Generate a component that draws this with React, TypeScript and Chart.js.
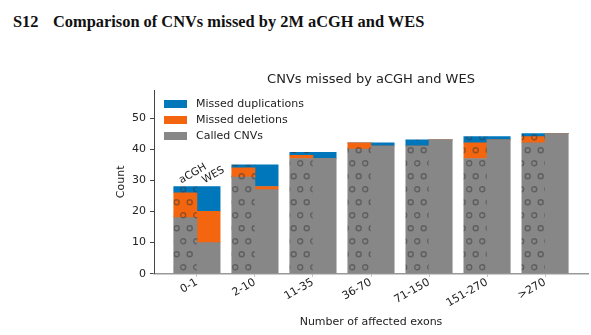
import React, { useEffect, useRef } from 'react';
import { Chart, registerables } from 'chart.js';

Chart.register(...registerables);

const categories = ['0-1', '2-10', '11-35', '36-70', '71-150', '151-270', '>270'];
const platforms = ['aCGH', 'WES'];
const acghCalled = [18, 31, 37, 40, 41, 37, 42];
const acghDeletions = [8, 3, 1, 2, 0, 5, 2];
const acghDuplications = [2, 1, 1, 0, 2, 2, 1];
const wesCalled = [10, 27, 37, 41, 43, 43, 45];
const wesDeletions = [10, 1, 0, 0, 0, 0, 0];
const wesDuplications = [8, 7, 2, 1, 0, 1, 0];
const yTicks = [0, 10, 20, 30, 40, 50];
const yMax = 59;
const barWidth = 0.4;
const chartTitle = 'CNVs missed by aCGH and WES';

const BLUE = '#0077BB';
const ORANGE = '#F4650F';
const GREY = '#878787';
const TEXT = '#222222';
const FONT = 'DejaVu Sans';

function makePattern(color: string): CanvasPattern | string {
  const c = document.createElement('canvas');
  c.width = 13;
  c.height = 26;
  const g = c.getContext('2d');
  if (!g) return color;
  g.fillStyle = color;
  g.fillRect(0, 0, 13, 26);
  g.strokeStyle = 'rgba(55,55,55,0.5)';
  g.lineWidth = 1.4;
  const circles = [[1.2, 7.3], [14.2, 7.3], [7.7, 20.3]];
  for (const [x, y] of circles) {
    g.beginPath();
    g.arc(x, y, 2.5, 0, Math.PI * 2);
    g.stroke();
  }
  return g.createPattern(c, 'repeat') || color;
}

function points(a: number[], w: number[]) {
  return categories.flatMap((_, i) => [
    { x: i - barWidth / 2, y: a[i], platform: platforms[0] },
    { x: i + barWidth / 2, y: w[i], platform: platforms[1] },
  ]);
}

export default function App() {
  const ref = useRef<HTMLCanvasElement | null>(null);

  useEffect(() => {
    if (!ref.current) return;
    const patterns: Record<string, CanvasPattern | string> = {
      [BLUE]: makePattern(BLUE),
      [ORANGE]: makePattern(ORANGE),
      [GREY]: makePattern(GREY),
    };
    const fill = (color: string) => (ctx: any) =>
      ctx && ctx.type === 'data' && ctx.raw && ctx.raw.platform === 'aCGH' ? patterns[color] : color;

    const n = categories.length;
    const lo = -barWidth;
    const hi = n - 1 + barWidth;
    const margin = (hi - lo) * 0.05;

    const overlay = {
      id: 'overlay',
      afterDatasetsDraw(chart: any) {
        const ctx = chart.ctx;
        const ca = chart.chartArea;
        const xs = chart.scales.x;
        const ys = chart.scales.y;
        ctx.save();
        // title centred over the plot area
        ctx.font = `13px "${FONT}"`;
        ctx.textAlign = 'center';
        ctx.textBaseline = 'alphabetic';
        ctx.fillStyle = TEXT;
        ctx.fillText(chartTitle, (ca.left + ca.right) / 2, ca.top - 7);
        // legend
        const ds = [...chart.data.datasets].reverse();
        ctx.font = `11px "${FONT}"`;
        ctx.textBaseline = 'middle';
        ctx.textAlign = 'left';
        ds.forEach((d: any, i: number) => {
          const bx = ca.left + 10;
          const by = ca.top + 10 + i * 16;
          ctx.fillStyle = d.legendColor;
          ctx.fillRect(bx, by, 23, 8);
          ctx.fillStyle = TEXT;
          ctx.fillText(d.label, bx + 32, by + 4.5);
        });
        // platform labels above first group
        ctx.font = `10.5px "${FONT}"`;
        ctx.textBaseline = 'alphabetic';
        const totals = [
          acghCalled[0] + acghDeletions[0] + acghDuplications[0],
          wesCalled[0] + wesDeletions[0] + wesDuplications[0],
        ];
        platforms.forEach((p, k) => {
          const x = xs.getPixelForValue(0 + (k === 0 ? -1 : 1) * barWidth / 2);
          const y = ys.getPixelForValue(totals[k]);
          ctx.save();
          ctx.translate(x - 4, y - 3);
          ctx.rotate(-Math.PI / 6);
          ctx.fillStyle = TEXT;
          ctx.fillText(p, 0, 0);
          ctx.restore();
        });
        ctx.restore();
      },
    };

    const chart = new Chart(ref.current, {
      type: 'bar',
      data: {
        datasets: [
          { label: 'Called CNVs', data: points(acghCalled, wesCalled), backgroundColor: fill(GREY), legendColor: GREY } as any,
          { label: 'Missed deletions', data: points(acghDeletions, wesDeletions), backgroundColor: fill(ORANGE), legendColor: ORANGE } as any,
          { label: 'Missed duplications', data: points(acghDuplications, wesDuplications), backgroundColor: fill(BLUE), legendColor: BLUE } as any,
        ],
      },
      options: {
        animation: false,
        responsive: false,
        devicePixelRatio: 1,
        layout: { padding: { top: 90, left: 113, right: 3, bottom: 0 } },
        datasets: { bar: { barPercentage: 1, categoryPercentage: 1, borderWidth: 0 } },
        font: { family: FONT },
        plugins: {
          legend: { display: false },
          tooltip: { enabled: false },
          title: { display: false },
        },
        scales: {
          x: {
            type: 'linear',
            stacked: true,
            offset: false,
            min: lo - margin,
            max: hi + margin,
            afterBuildTicks: (s: any) => {
              s.ticks = categories.map((_, i) => ({ value: i }));
            },
            afterFit: (s: any) => {
              s.height = 61.3;
            },
            grid: { offset: false, drawOnChartArea: false, drawTicks: true, tickLength: 3, color: '#bbbbbb' },
            border: { color: '#999999', width: 1.5 },
            ticks: {
              autoSkip: false,
              minRotation: 30,
              maxRotation: 30,
              padding: -1,
              color: TEXT,
              font: { family: FONT, size: 11 },
              callback: (v: any) => categories[v] ?? '',
            },
            title: {
              display: true,
              text: 'Number of affected exons',
              color: TEXT,
              font: { family: FONT, size: 11 },
              padding: { top: 0, bottom: 6 },
            },
          },
          y: {
            stacked: true,
            min: 0,
            max: yMax,
            afterBuildTicks: (s: any) => {
              s.ticks = yTicks.map((v) => ({ value: v }));
            },
            afterFit: (s: any) => {
              s.width = 41;
            },
            grid: { drawOnChartArea: false, drawTicks: true, tickLength: 4, color: '#444444' },
            border: { color: '#444444', width: 1 },
            ticks: { padding: 4, color: TEXT, font: { family: FONT, size: 11 } },
            title: {
              display: true,
              text: 'Count',
              color: TEXT,
              font: { family: FONT, size: 11 },
              padding: { top: 2, bottom: 0 },
            },
          },
        },
      } as any,
      plugins: [overlay],
    });
    return () => chart.destroy();
  }, []);

  return (
    <div style={{ position: 'absolute', left: 0, top: 0, width: 591, height: 335, background: '#fff' }}>
      <div
        style={{
          position: 'absolute',
          left: 13,
          top: 12,
          fontFamily: '"Liberation Serif", serif',
          fontWeight: 'bold',
          fontSize: 16.4,
          lineHeight: '20px',
          whiteSpace: 'nowrap',
          color: '#111',
        }}
      >
        <span>S12</span>
        <span style={{ position: 'absolute', left: 40 }}>Comparison of CNVs missed by 2M aCGH and WES</span>
      </div>
      <canvas ref={ref} width={591} height={335} style={{ position: 'absolute', left: 0, top: 0, width: 591, height: 335 }} />
    </div>
  );
}
